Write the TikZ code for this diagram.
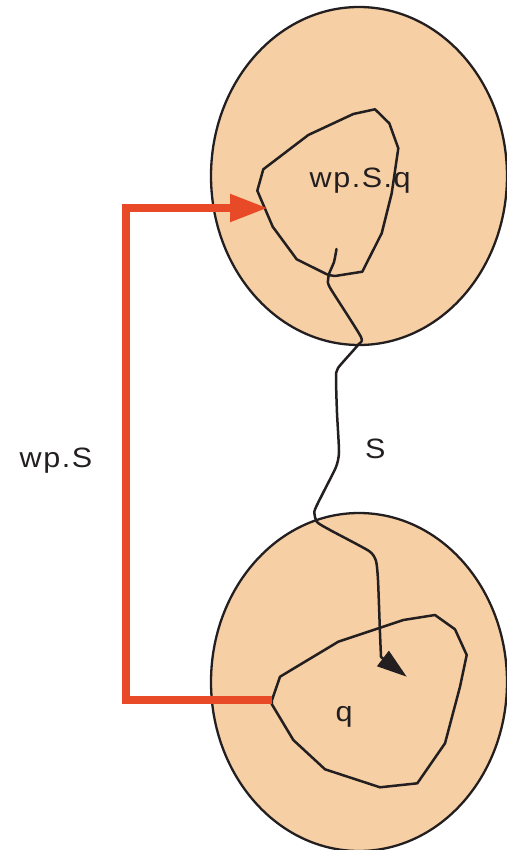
\documentclass[tikz,border=0pt]{standalone}
\usepackage{fontspec}
\setmainfont{Liberation Sans}
\newfontfamily\labfont[FakeStretch=1.09, LetterSpace=5.5]{Liberation Sans}
\usetikzlibrary{arrows.meta,shapes.geometric}
\definecolor{peach}{RGB}{246,207,164}
\definecolor{redline}{RGB}{232,74,39}
\definecolor{ink}{RGB}{35,31,32}
\begin{document}
\begin{tikzpicture}[x=1pt,y=-1pt,
  region/.style={ellipse, draw=ink, fill=peach, line width=2.3pt,
    minimum width=296pt, minimum height=338pt, inner sep=0pt},
  lab/.style={anchor=base west, inner sep=0pt,
    font=\labfont\fontsize{28}{32}\selectfont, text=ink},
  loopline/.style={draw=ink, line width=2.5pt, line join=round, line cap=round},
  redconn/.style={draw=redline, line width=8pt, line join=miter},
]
\useasboundingbox (0,0) rectangle (506,850);
% regions
\node[region] (top) at (359,176) {};
\node[region] (bot) at (359,682) {};
% loops inside the regions
\draw[loopline] (335,276) -- (362.3,271.7) -- (381.7,233.3) -- (391.7,193.3)
  -- (398.3,148.3) -- (389.3,123.3) -- (375,109.3) -- (353.3,114) -- (308.3,135)
  -- (263.3,169.3) -- (257.3,190.7) -- (272.7,226.7) -- (296.7,259.3)
  -- (328.3,275) -- cycle;
\coordinate (qleft) at (272,700);
\draw[loopline] (qleft) -- (280,676.7) -- (338.3,641.7) -- (403.3,620) -- (435,615)
  -- (455,629.3) -- (466.7,655) -- (460,686.7) -- (445,743.3) -- (417.3,783.3)
  -- (380,787.3) -- (325,769.3) -- (293.3,740) -- (271.7,704) -- cycle;
% program S path
\coordinate (sstart) at (336.5,249);
\coordinate (send) at (381,657);
\coordinate (stip) at (406.7,676.7);
\draw[loopline] plot[smooth, tension=0.35] coordinates {
  (336.5,249) (334,262) (329,274) (328,283) (332,291) (361,337) (358,345)
  (338,368) (336,378) (337,413) (339,452) (336,467) (323,493) (314.5,511)
  (317,522) (330,530) (369,551) (376,561) (378,580) (380,633) (381,657)};
\draw[draw=ink, line width=2.5pt, -{Triangle[length=30pt,width=19pt]}, fill=ink]
  (send) -- (stip);
% wp.S connector
\coordinate (wpin) at (268,208);
\draw[redconn, -{Triangle[length=38pt,width=26pt]}]
  (qleft) -- (126,700) -- (126,208) -- (wpin);
% labels
\node[lab] (lwpsq) at (309.5,187.5) {wp.S.q};
\node[lab] (lwps) at (19.5,467) {wp.S};
\node[lab] (ls) at (365,458) {S};
\node[lab] (lq) at (335.5,721) {q};
\end{tikzpicture}
\end{document}
